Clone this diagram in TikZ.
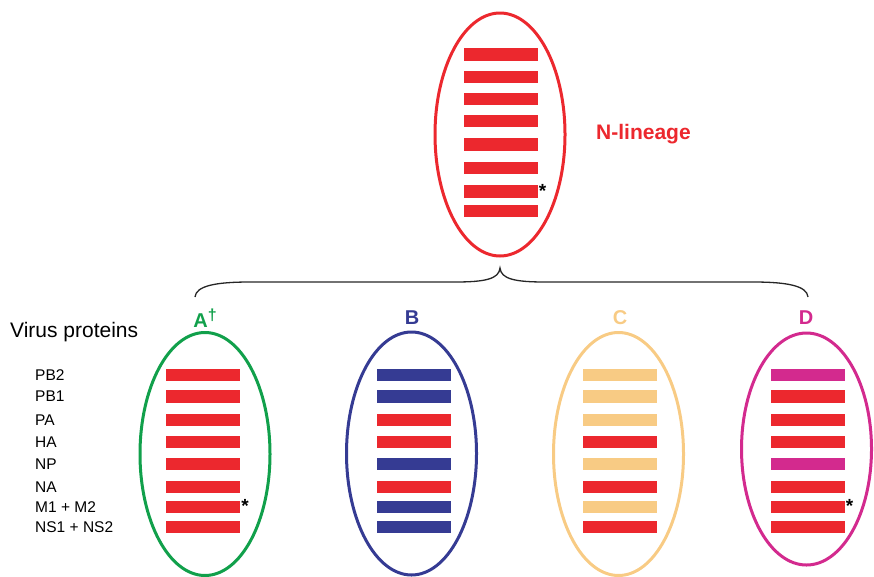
\documentclass[tikz,border=0pt]{standalone}
\usepackage{fontspec}
\setmainfont{Liberation Sans}
\usetikzlibrary{shapes.geometric}
\definecolor{cred}{HTML}{EC282E}
\definecolor{cblue}{HTML}{353B93}
\definecolor{ctan}{HTML}{F8CB84}
\definecolor{cmag}{HTML}{D32A8E}
\definecolor{cgreen}{HTML}{11A04B}
\begin{document}
\begin{tikzpicture}[x=1pt,y=-1pt,
  capsule/.style={ellipse, draw, line width=3pt, minimum width=130pt, minimum height=243pt, inner sep=0pt},
  bar/.style={rectangle, draw=none, minimum width=74pt, minimum height=12.5pt, inner sep=0pt},
  grp/.style={font=\fontsize{20}{20}\selectfont\bfseries, inner sep=0pt},
  prot/.style={font=\fontsize{15.5}{16}\selectfont, anchor=west, inner sep=0pt},
  star/.style={font=\fontsize{19}{19}\selectfont\bfseries, inner sep=0pt},
  brace/.style={draw=black!85, line width=1.3pt}]
\useasboundingbox (0,0) rectangle (874,576);

% top ellipse
\node[capsule, draw=cred] (top) at (500,134.5) {};
\foreach \y [count=\i] in {54.5,77,99,121,144.5,168,191.5,211}
  \node[bar, fill=cred] (t\i) at (500.5,\y) {};
\node[star, anchor=west] (tstar) at ([xshift=1pt,yshift=1pt]t7.east) {*};
\node[font=\fontsize{21}{21}\selectfont\bfseries, text=cred, anchor=west, inner sep=0pt] (nlin) at (596,134) {N-lineage};

% brace
\coordinate (bl) at (195,297);
\coordinate (bt) at (500,268);
\coordinate (br) at (808,297);
\draw[brace] (bl) .. controls (196,286) and (215,282) .. (250,282) -- (455,282)
  .. controls (485,282) and (499,279) .. (bt)
  .. controls (501,279) and (515,282) .. (545,282) -- (753,282)
  .. controls (788,282) and (807,286) .. (br);

% group labels
\node[grp, text=cgreen] (la) at (205,318) {A\raisebox{0.32em}{\fontsize{16}{16}\selectfont †}};
\node[grp, text=cblue] (lb) at (412,318) {B};
\node[grp, text=ctan] (lc) at (620,318) {C};
\node[grp, text=cmag] (ld) at (806,318) {D};

% protein labels
\node[font=\fontsize{21}{21}\selectfont, anchor=west, inner sep=0pt] (vp) at (10,332) {Virus proteins};
\foreach \t/\y [count=\i] in {PB2/375,PB1/396.5,PA/420,HA/442,NP/464,NA/487,M1 + M2/507,NS1 + NS2/527}
  \node[prot] (p\i) at (35,\y) {\t};

% ellipse A
\node[capsule, draw=cgreen] (ea) at (205,454) {};
\foreach \y [count=\i] in {375,396.5,420,442,464,487,507,527}
  \node[bar, fill=cred] (a\i) at (203,\y) {};
\node[star, anchor=west] (astar) at ([xshift=1pt,yshift=1pt]a7.east) {*};

% ellipse B
\node[capsule, draw=cblue] (eb) at (411.5,453.5) {};
\foreach \c/\y [count=\i] in {cblue/375,cblue/396.5,cred/420,cred/442,cblue/464,cred/487,cblue/507,cblue/527}
  \node[bar, fill=\c] (b\i) at (413.5,\y) {};

% ellipse C
\node[capsule, draw=ctan] (ec) at (618.5,454) {};
\foreach \c/\y [count=\i] in {ctan/375,ctan/396.5,ctan/420,cred/442,ctan/464,cred/487,ctan/507,cred/527}
  \node[bar, fill=\c] (c\i) at (620,\y) {};

% ellipse D
\node[capsule, draw=cmag, minimum height=232pt] (ed) at (806.5,449) {};
\foreach \c/\y [count=\i] in {cmag/375,cred/396.5,cred/420,cred/442,cmag/464,cred/487,cred/507,cred/527}
  \node[bar, fill=\c] (d\i) at (808,\y) {};
\node[star, anchor=west] (dstar) at ([xshift=0.5pt,yshift=1pt]d7.east) {*};
\end{tikzpicture}
\end{document}
